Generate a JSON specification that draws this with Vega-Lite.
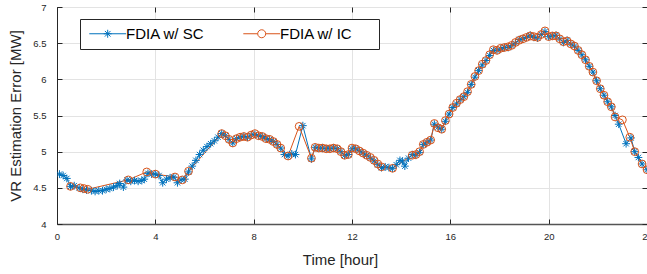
{
  "$schema": "https://vega.github.io/schema/vega-lite/v6.json",
  "autosize": {"type": "none"},
  "width": 590,
  "height": 217,
  "padding": {"left": 57, "top": 7, "right": 0, "bottom": 50},
  "background": "white",
  "config": {
    "font": "Liberation Sans",
    "view": {"stroke": "#262626", "strokeWidth": 1},
    "axis": {
      "labelColor": "#262626",
      "labelFontSize": 9.5,
      "labelFlush": false,
      "titleColor": "#262626",
      "titleFontSize": 15,
      "titleFontWeight": "normal",
      "gridColor": "#e3e3e3",
      "gridWidth": 1,
      "domainColor": "#262626",
      "tickColor": "#262626"
    }
  },
  "data": {"values": [
    {"t":0.1,"v":4.69,"s":"FDIA w/ SC"},{"t":0.25,"v":4.67,"s":"FDIA w/ SC"},{"t":0.4,"v":4.63,"s":"FDIA w/ SC"},{"t":0.55,"v":4.52,"s":"FDIA w/ SC"},{"t":0.7,"v":4.53,"s":"FDIA w/ SC"},{"t":0.9,"v":4.50,"s":"FDIA w/ SC"},{"t":1.05,"v":4.48,"s":"FDIA w/ SC"},{"t":1.2,"v":4.47,"s":"FDIA w/ SC"},{"t":1.4,"v":4.46,"s":"FDIA w/ SC"},{"t":1.55,"v":4.45,"s":"FDIA w/ SC"},{"t":1.7,"v":4.46,"s":"FDIA w/ SC"},{"t":1.85,"v":4.46,"s":"FDIA w/ SC"},{"t":2.0,"v":4.48,"s":"FDIA w/ SC"},{"t":2.15,"v":4.49,"s":"FDIA w/ SC"},{"t":2.3,"v":4.51,"s":"FDIA w/ SC"},{"t":2.45,"v":4.53,"s":"FDIA w/ SC"},{"t":2.55,"v":4.56,"s":"FDIA w/ SC"},{"t":2.7,"v":4.51,"s":"FDIA w/ SC"},{"t":2.85,"v":4.61,"s":"FDIA w/ SC"},{"t":3.0,"v":4.59,"s":"FDIA w/ SC"},{"t":3.15,"v":4.60,"s":"FDIA w/ SC"},{"t":3.3,"v":4.59,"s":"FDIA w/ SC"},{"t":3.45,"v":4.60,"s":"FDIA w/ SC"},{"t":3.55,"v":4.62,"s":"FDIA w/ SC"},{"t":3.7,"v":4.70,"s":"FDIA w/ SC"},{"t":3.85,"v":4.69,"s":"FDIA w/ SC"},{"t":4.0,"v":4.69,"s":"FDIA w/ SC"},{"t":4.15,"v":4.67,"s":"FDIA w/ SC"},{"t":4.3,"v":4.57,"s":"FDIA w/ SC"},{"t":4.45,"v":4.62,"s":"FDIA w/ SC"},{"t":4.6,"v":4.64,"s":"FDIA w/ SC"},{"t":4.75,"v":4.65,"s":"FDIA w/ SC"},{"t":4.9,"v":4.57,"s":"FDIA w/ SC"},{"t":5.05,"v":4.61,"s":"FDIA w/ SC"},{"t":5.2,"v":4.62,"s":"FDIA w/ SC"},{"t":5.35,"v":4.72,"s":"FDIA w/ SC"},{"t":5.5,"v":4.80,"s":"FDIA w/ SC"},{"t":5.65,"v":4.88,"s":"FDIA w/ SC"},{"t":5.8,"v":4.96,"s":"FDIA w/ SC"},{"t":5.95,"v":5.02,"s":"FDIA w/ SC"},{"t":6.1,"v":5.07,"s":"FDIA w/ SC"},{"t":6.25,"v":5.11,"s":"FDIA w/ SC"},{"t":6.4,"v":5.15,"s":"FDIA w/ SC"},{"t":6.55,"v":5.20,"s":"FDIA w/ SC"},{"t":6.7,"v":5.25,"s":"FDIA w/ SC"},{"t":6.85,"v":5.22,"s":"FDIA w/ SC"},{"t":7.0,"v":5.17,"s":"FDIA w/ SC"},{"t":7.15,"v":5.12,"s":"FDIA w/ SC"},{"t":7.3,"v":5.18,"s":"FDIA w/ SC"},{"t":7.45,"v":5.20,"s":"FDIA w/ SC"},{"t":7.6,"v":5.21,"s":"FDIA w/ SC"},{"t":7.75,"v":5.20,"s":"FDIA w/ SC"},{"t":7.9,"v":5.23,"s":"FDIA w/ SC"},{"t":8.05,"v":5.24,"s":"FDIA w/ SC"},{"t":8.2,"v":5.22,"s":"FDIA w/ SC"},{"t":8.35,"v":5.21,"s":"FDIA w/ SC"},{"t":8.5,"v":5.18,"s":"FDIA w/ SC"},{"t":8.65,"v":5.17,"s":"FDIA w/ SC"},{"t":8.8,"v":5.14,"s":"FDIA w/ SC"},{"t":8.95,"v":5.10,"s":"FDIA w/ SC"},{"t":9.1,"v":5.05,"s":"FDIA w/ SC"},{"t":9.25,"v":4.96,"s":"FDIA w/ SC"},{"t":9.4,"v":4.94,"s":"FDIA w/ SC"},{"t":9.55,"v":4.97,"s":"FDIA w/ SC"},{"t":9.7,"v":4.96,"s":"FDIA w/ SC"},{"t":10.0,"v":5.36,"s":"FDIA w/ SC"},{"t":10.35,"v":4.90,"s":"FDIA w/ SC"},{"t":10.5,"v":5.06,"s":"FDIA w/ SC"},{"t":10.65,"v":5.05,"s":"FDIA w/ SC"},{"t":10.8,"v":5.05,"s":"FDIA w/ SC"},{"t":10.95,"v":5.04,"s":"FDIA w/ SC"},{"t":11.1,"v":5.04,"s":"FDIA w/ SC"},{"t":11.25,"v":5.05,"s":"FDIA w/ SC"},{"t":11.4,"v":5.04,"s":"FDIA w/ SC"},{"t":11.55,"v":5.00,"s":"FDIA w/ SC"},{"t":11.7,"v":4.95,"s":"FDIA w/ SC"},{"t":11.85,"v":4.96,"s":"FDIA w/ SC"},{"t":12.0,"v":5.04,"s":"FDIA w/ SC"},{"t":12.15,"v":5.04,"s":"FDIA w/ SC"},{"t":12.3,"v":5.01,"s":"FDIA w/ SC"},{"t":12.45,"v":4.98,"s":"FDIA w/ SC"},{"t":12.6,"v":4.95,"s":"FDIA w/ SC"},{"t":12.75,"v":4.91,"s":"FDIA w/ SC"},{"t":12.9,"v":4.87,"s":"FDIA w/ SC"},{"t":13.05,"v":4.82,"s":"FDIA w/ SC"},{"t":13.2,"v":4.78,"s":"FDIA w/ SC"},{"t":13.35,"v":4.79,"s":"FDIA w/ SC"},{"t":13.5,"v":4.78,"s":"FDIA w/ SC"},{"t":13.65,"v":4.77,"s":"FDIA w/ SC"},{"t":13.8,"v":4.82,"s":"FDIA w/ SC"},{"t":13.95,"v":4.88,"s":"FDIA w/ SC"},{"t":14.05,"v":4.87,"s":"FDIA w/ SC"},{"t":14.15,"v":4.80,"s":"FDIA w/ SC"},{"t":14.3,"v":4.91,"s":"FDIA w/ SC"},{"t":14.45,"v":4.96,"s":"FDIA w/ SC"},{"t":14.6,"v":4.95,"s":"FDIA w/ SC"},{"t":14.75,"v":4.99,"s":"FDIA w/ SC"},{"t":14.9,"v":5.10,"s":"FDIA w/ SC"},{"t":15.05,"v":5.13,"s":"FDIA w/ SC"},{"t":15.2,"v":5.16,"s":"FDIA w/ SC"},{"t":15.35,"v":5.38,"s":"FDIA w/ SC"},{"t":15.5,"v":5.34,"s":"FDIA w/ SC"},{"t":15.65,"v":5.31,"s":"FDIA w/ SC"},{"t":15.8,"v":5.42,"s":"FDIA w/ SC"},{"t":15.95,"v":5.52,"s":"FDIA w/ SC"},{"t":16.1,"v":5.61,"s":"FDIA w/ SC"},{"t":16.25,"v":5.66,"s":"FDIA w/ SC"},{"t":16.4,"v":5.72,"s":"FDIA w/ SC"},{"t":16.55,"v":5.76,"s":"FDIA w/ SC"},{"t":16.7,"v":5.82,"s":"FDIA w/ SC"},{"t":16.85,"v":5.93,"s":"FDIA w/ SC"},{"t":17.0,"v":6.03,"s":"FDIA w/ SC"},{"t":17.15,"v":6.12,"s":"FDIA w/ SC"},{"t":17.3,"v":6.20,"s":"FDIA w/ SC"},{"t":17.45,"v":6.26,"s":"FDIA w/ SC"},{"t":17.6,"v":6.33,"s":"FDIA w/ SC"},{"t":17.75,"v":6.40,"s":"FDIA w/ SC"},{"t":17.9,"v":6.40,"s":"FDIA w/ SC"},{"t":18.05,"v":6.42,"s":"FDIA w/ SC"},{"t":18.2,"v":6.44,"s":"FDIA w/ SC"},{"t":18.35,"v":6.44,"s":"FDIA w/ SC"},{"t":18.5,"v":6.47,"s":"FDIA w/ SC"},{"t":18.65,"v":6.50,"s":"FDIA w/ SC"},{"t":18.8,"v":6.55,"s":"FDIA w/ SC"},{"t":18.95,"v":6.56,"s":"FDIA w/ SC"},{"t":19.1,"v":6.58,"s":"FDIA w/ SC"},{"t":19.25,"v":6.61,"s":"FDIA w/ SC"},{"t":19.4,"v":6.58,"s":"FDIA w/ SC"},{"t":19.55,"v":6.57,"s":"FDIA w/ SC"},{"t":19.7,"v":6.62,"s":"FDIA w/ SC"},{"t":19.85,"v":6.66,"s":"FDIA w/ SC"},{"t":20.0,"v":6.59,"s":"FDIA w/ SC"},{"t":20.15,"v":6.60,"s":"FDIA w/ SC"},{"t":20.3,"v":6.61,"s":"FDIA w/ SC"},{"t":20.45,"v":6.56,"s":"FDIA w/ SC"},{"t":20.6,"v":6.51,"s":"FDIA w/ SC"},{"t":20.75,"v":6.54,"s":"FDIA w/ SC"},{"t":20.9,"v":6.49,"s":"FDIA w/ SC"},{"t":21.05,"v":6.46,"s":"FDIA w/ SC"},{"t":21.2,"v":6.40,"s":"FDIA w/ SC"},{"t":21.35,"v":6.34,"s":"FDIA w/ SC"},{"t":21.5,"v":6.27,"s":"FDIA w/ SC"},{"t":21.65,"v":6.18,"s":"FDIA w/ SC"},{"t":21.8,"v":6.10,"s":"FDIA w/ SC"},{"t":21.95,"v":5.98,"s":"FDIA w/ SC"},{"t":22.1,"v":5.87,"s":"FDIA w/ SC"},{"t":22.25,"v":5.78,"s":"FDIA w/ SC"},{"t":22.4,"v":5.69,"s":"FDIA w/ SC"},{"t":22.55,"v":5.62,"s":"FDIA w/ SC"},{"t":22.7,"v":5.50,"s":"FDIA w/ SC"},{"t":22.85,"v":5.38,"s":"FDIA w/ SC"},{"t":23.15,"v":5.11,"s":"FDIA w/ SC"},{"t":23.35,"v":5.19,"s":"FDIA w/ SC"},{"t":23.5,"v":5.00,"s":"FDIA w/ SC"},{"t":23.65,"v":4.92,"s":"FDIA w/ SC"},{"t":23.8,"v":4.83,"s":"FDIA w/ SC"},{"t":24.0,"v":4.75,"s":"FDIA w/ SC"},

    {"t":0.55,"v":4.52,"s":"FDIA w/ IC"},{"t":0.95,"v":4.50,"s":"FDIA w/ IC"},{"t":1.1,"v":4.49,"s":"FDIA w/ IC"},{"t":1.25,"v":4.48,"s":"FDIA w/ IC"},{"t":2.9,"v":4.61,"s":"FDIA w/ IC"},{"t":3.65,"v":4.72,"s":"FDIA w/ IC"},{"t":4.0,"v":4.69,"s":"FDIA w/ IC"},{"t":4.8,"v":4.65,"s":"FDIA w/ IC"},{"t":5.1,"v":4.61,"s":"FDIA w/ IC"},{"t":5.35,"v":4.73,"s":"FDIA w/ IC"},{"t":6.7,"v":5.25,"s":"FDIA w/ IC"},{"t":6.85,"v":5.22,"s":"FDIA w/ IC"},{"t":7.0,"v":5.17,"s":"FDIA w/ IC"},{"t":7.15,"v":5.12,"s":"FDIA w/ IC"},{"t":7.3,"v":5.18,"s":"FDIA w/ IC"},{"t":7.45,"v":5.20,"s":"FDIA w/ IC"},{"t":7.6,"v":5.21,"s":"FDIA w/ IC"},{"t":7.75,"v":5.20,"s":"FDIA w/ IC"},{"t":7.9,"v":5.23,"s":"FDIA w/ IC"},{"t":8.05,"v":5.25,"s":"FDIA w/ IC"},{"t":8.2,"v":5.22,"s":"FDIA w/ IC"},{"t":8.35,"v":5.21,"s":"FDIA w/ IC"},{"t":8.5,"v":5.18,"s":"FDIA w/ IC"},{"t":8.65,"v":5.17,"s":"FDIA w/ IC"},{"t":8.8,"v":5.14,"s":"FDIA w/ IC"},{"t":8.95,"v":5.10,"s":"FDIA w/ IC"},{"t":9.1,"v":5.05,"s":"FDIA w/ IC"},{"t":9.4,"v":4.94,"s":"FDIA w/ IC"},{"t":9.85,"v":5.35,"s":"FDIA w/ IC"},{"t":10.35,"v":4.91,"s":"FDIA w/ IC"},{"t":10.5,"v":5.06,"s":"FDIA w/ IC"},{"t":10.65,"v":5.05,"s":"FDIA w/ IC"},{"t":10.8,"v":5.05,"s":"FDIA w/ IC"},{"t":10.95,"v":5.04,"s":"FDIA w/ IC"},{"t":11.1,"v":5.04,"s":"FDIA w/ IC"},{"t":11.25,"v":5.05,"s":"FDIA w/ IC"},{"t":11.4,"v":5.04,"s":"FDIA w/ IC"},{"t":11.55,"v":5.00,"s":"FDIA w/ IC"},{"t":11.7,"v":4.95,"s":"FDIA w/ IC"},{"t":11.85,"v":4.96,"s":"FDIA w/ IC"},{"t":12.0,"v":5.05,"s":"FDIA w/ IC"},{"t":12.15,"v":5.04,"s":"FDIA w/ IC"},{"t":12.3,"v":5.01,"s":"FDIA w/ IC"},{"t":12.45,"v":4.98,"s":"FDIA w/ IC"},{"t":12.6,"v":4.95,"s":"FDIA w/ IC"},{"t":12.75,"v":4.92,"s":"FDIA w/ IC"},{"t":12.9,"v":4.88,"s":"FDIA w/ IC"},{"t":13.05,"v":4.83,"s":"FDIA w/ IC"},{"t":13.2,"v":4.79,"s":"FDIA w/ IC"},{"t":13.65,"v":4.77,"s":"FDIA w/ IC"},{"t":14.45,"v":4.95,"s":"FDIA w/ IC"},{"t":14.6,"v":4.96,"s":"FDIA w/ IC"},{"t":14.75,"v":5.00,"s":"FDIA w/ IC"},{"t":14.9,"v":5.10,"s":"FDIA w/ IC"},{"t":15.05,"v":5.13,"s":"FDIA w/ IC"},{"t":15.2,"v":5.16,"s":"FDIA w/ IC"},{"t":15.35,"v":5.39,"s":"FDIA w/ IC"},{"t":15.5,"v":5.33,"s":"FDIA w/ IC"},{"t":15.65,"v":5.31,"s":"FDIA w/ IC"},{"t":15.8,"v":5.43,"s":"FDIA w/ IC"},{"t":15.95,"v":5.52,"s":"FDIA w/ IC"},{"t":16.1,"v":5.61,"s":"FDIA w/ IC"},{"t":16.25,"v":5.67,"s":"FDIA w/ IC"},{"t":16.4,"v":5.72,"s":"FDIA w/ IC"},{"t":16.55,"v":5.76,"s":"FDIA w/ IC"},{"t":16.7,"v":5.83,"s":"FDIA w/ IC"},{"t":16.85,"v":5.93,"s":"FDIA w/ IC"},{"t":17.0,"v":6.04,"s":"FDIA w/ IC"},{"t":17.15,"v":6.12,"s":"FDIA w/ IC"},{"t":17.3,"v":6.21,"s":"FDIA w/ IC"},{"t":17.45,"v":6.26,"s":"FDIA w/ IC"},{"t":17.6,"v":6.34,"s":"FDIA w/ IC"},{"t":17.75,"v":6.41,"s":"FDIA w/ IC"},{"t":17.9,"v":6.40,"s":"FDIA w/ IC"},{"t":18.05,"v":6.43,"s":"FDIA w/ IC"},{"t":18.2,"v":6.44,"s":"FDIA w/ IC"},{"t":18.35,"v":6.45,"s":"FDIA w/ IC"},{"t":18.5,"v":6.47,"s":"FDIA w/ IC"},{"t":18.65,"v":6.51,"s":"FDIA w/ IC"},{"t":18.8,"v":6.54,"s":"FDIA w/ IC"},{"t":18.95,"v":6.56,"s":"FDIA w/ IC"},{"t":19.1,"v":6.58,"s":"FDIA w/ IC"},{"t":19.25,"v":6.60,"s":"FDIA w/ IC"},{"t":19.4,"v":6.59,"s":"FDIA w/ IC"},{"t":19.55,"v":6.58,"s":"FDIA w/ IC"},{"t":19.7,"v":6.62,"s":"FDIA w/ IC"},{"t":19.85,"v":6.67,"s":"FDIA w/ IC"},{"t":20.0,"v":6.59,"s":"FDIA w/ IC"},{"t":20.15,"v":6.60,"s":"FDIA w/ IC"},{"t":20.3,"v":6.60,"s":"FDIA w/ IC"},{"t":20.45,"v":6.56,"s":"FDIA w/ IC"},{"t":20.6,"v":6.52,"s":"FDIA w/ IC"},{"t":20.75,"v":6.53,"s":"FDIA w/ IC"},{"t":20.9,"v":6.49,"s":"FDIA w/ IC"},{"t":21.05,"v":6.46,"s":"FDIA w/ IC"},{"t":21.2,"v":6.40,"s":"FDIA w/ IC"},{"t":21.35,"v":6.34,"s":"FDIA w/ IC"},{"t":21.5,"v":6.27,"s":"FDIA w/ IC"},{"t":21.65,"v":6.18,"s":"FDIA w/ IC"},{"t":21.8,"v":6.10,"s":"FDIA w/ IC"},{"t":21.95,"v":5.98,"s":"FDIA w/ IC"},{"t":22.1,"v":5.87,"s":"FDIA w/ IC"},{"t":22.25,"v":5.78,"s":"FDIA w/ IC"},{"t":22.4,"v":5.69,"s":"FDIA w/ IC"},{"t":22.55,"v":5.62,"s":"FDIA w/ IC"},{"t":22.7,"v":5.48,"s":"FDIA w/ IC"},{"t":23.0,"v":5.44,"s":"FDIA w/ IC"},{"t":23.3,"v":5.20,"s":"FDIA w/ IC"},{"t":23.5,"v":5.00,"s":"FDIA w/ IC"},{"t":23.8,"v":4.83,"s":"FDIA w/ IC"},{"t":24.0,"v":4.75,"s":"FDIA w/ IC"}
  ]},
  "resolve": {
    "scale": {"color": "independent"},
    "axis": {"x": "independent", "y": "independent"}
  },
  "layer": [
    {
      "mark": {"type": "line", "strokeWidth": 1, "clip": true},
      "encoding": {
        "x": {"field": "t", "type": "quantitative",
              "scale": {"domain": [0, 24], "nice": false, "zero": false},
              "axis": {"orient": "bottom", "values": [0,4,8,12,16,20,24], "title": "Time [hour]", "titleX": 283,
                       "tickSize": -5, "labelPadding": 12, "titlePadding": 12, "grid": true, "domainWidth": 1.5, "domainColor": "#555555"}},
        "y": {"field": "v", "type": "quantitative",
              "scale": {"domain": [4, 7], "nice": false, "zero": false},
              "axis": {"orient": "left", "values": [4,4.5,5,5.5,6,6.5,7], "format": "~g", "title": "VR Estimation Error [MW]",
                       "tickSize": -5, "labelPadding": 16, "titlePadding": 9, "grid": true}},
        "color": {"field": "s", "type": "nominal", "sort": "descending",
                  "scale": {"range": ["#0072BD", "#D95319"]},
                  "legend": {"orient": "none", "legendX": 23, "legendY": 12, "direction": "horizontal",
                             "title": "\u00a0", "titleOrient": "right", "titlePadding": 19, "titleFontSize": 11,
                             "symbolType": "M-1.3,0H7.9", "symbolSize": 64, "symbolStrokeWidth": 1,
                             "labelFontSize": 15, "labelColor": "#000000", "labelOffset": 24, "columnPadding": 36,
                             "padding": 7, "strokeColor": "#262626", "fillColor": "white", "cornerRadius": 0,
                             "encode": {"symbols": {"update": {"shape": {"signal": "datum.value === 'FDIA w/ SC' ? 'M-1.3,0H7.9M2.3,0H4.3M3.3,-1V1M2.6,-0.7L4,0.7M2.6,0.7L4,-0.7' : 'M-1.3,0H2.3M4.3,0H7.9M4.3,0A1,1 0 1,1 2.3,0A1,1 0 1,1 4.3,0'"}}}}}}
      }
    },
    {
      "mark": {"type": "point", "filled": false, "strokeWidth": 1, "size": 60, "opacity": 1, "clip": true},
      "encoding": {
        "x": {"field": "t", "type": "quantitative",
              "axis": {"orient": "top", "values": [0,4,8,12,16,20,24], "labels": false, "title": null, "grid": false, "domain": false, "tickSize": -5}},
        "y": {"field": "v", "type": "quantitative",
              "axis": {"orient": "right", "values": [4,4.5,5,5.5,6,6.5,7], "labels": false, "title": null, "grid": false, "domain": false, "tickSize": -5}},
        "color": {"field": "s", "type": "nominal",
                  "scale": {"domain": ["FDIA w/ SC", "FDIA w/ IC"], "range": ["#0072BD", "#D95319"]},
                  "legend": null},
        "shape": {"field": "s", "type": "nominal",
                  "scale": {"domain": ["FDIA w/ SC", "FDIA w/ IC"], "range": ["M-1,0H1M0,-1V1M-0.7,-0.7L0.7,0.7M-0.7,0.7L0.7,-0.7", "circle"]},
                  "legend": null}
      }
    }
  ]
}
